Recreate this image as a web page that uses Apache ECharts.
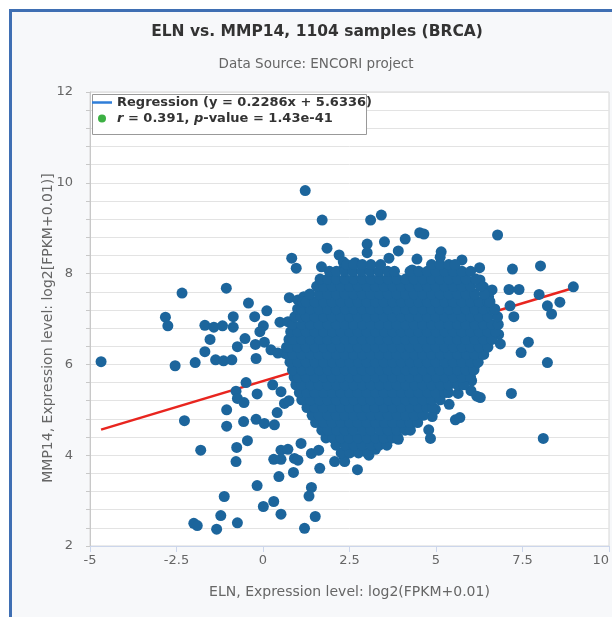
<!DOCTYPE html>
<html><head><meta charset="utf-8">
<script src="https://cdn.jsdelivr.net/npm/echarts/dist/echarts.min.js"></script>
<style>
html,body{margin:0;padding:0;background:#fff;width:612px;height:617px;overflow:hidden;position:relative}
#frame{position:absolute;left:9px;top:9px;width:700px;height:700px;box-sizing:border-box;border-left:3px solid #3f6fb3;border-top:3px solid #3f6fb3;background:#f7f8fa}
#chart{position:absolute;left:0;top:0;width:612px;height:617px}
</style></head><body>
<div id="frame"></div><div id="chart"></div>
<script>
const titleText = 'ELN vs. MMP14, 1104 samples (BRCA)';
const subtitleText = 'Data Source: ENCORI project';
const xTitle = 'ELN, Expression level: log2(FPKM+0.01)';
const yTitle = 'MMP14, Expression level: log2[FPKM+0.01)]';
const xTicks = [-5, -2.5, 0, 2.5, 5, 7.5, 10];
const yTicks = [2, 4, 6, 8, 10, 12];
const regSlope = 0.2286;
const regIntercept = 5.6336;
const rValue = '0.391';
const pValue = '1.43e-41';

// scattered samples [ELN, MMP14]
const sparseSamples = [
  [-4.68,6.06],[-2.82,7.04],[-2.75,6.85],[-2.34,7.57],[-2.54,5.97],[-1.96,6.04],
  [-1.68,6.86],[-1.42,6.82],[-1.17,6.85],[-1.06,7.68],[-0.86,7.05],[-0.86,6.82],
  [-0.42,7.35],[-0.24,7.05],[0.11,7.18],[0.01,6.85],[-0.09,6.72],[-1.53,6.55],
  [-0.52,6.57],[-0.74,6.39],[-0.22,6.44],[0.04,6.49],[-1.68,6.28],[-1.37,6.10],
  [-1.14,6.08],[-0.90,6.10],[-0.20,6.13],[0.23,6.32],[0.43,6.25],[0.62,6.25],
  [0.49,6.93],[0.72,6.94],[0.76,7.47],[1.01,7.42],[1.18,7.49],[0.91,6.54],[1.10,6.57],
  [1.22,9.83],[1.71,9.18],[1.85,8.56],[2.20,8.41],[2.32,8.26],[2.32,8.10],[0.83,8.34],
  [0.96,8.12],[1.69,8.15],[3.11,9.18],[3.42,9.29],[2.66,8.24],[3.01,8.65],[3.01,8.46],
  [3.51,8.70],[3.91,8.50],[4.11,8.76],[4.53,8.90],[4.65,8.87],[3.64,8.34],[4.45,8.32],
  [4.31,8.08],[5.15,8.48],[5.12,8.36],[5.75,8.30],[6.26,8.13],[6.78,8.85],
  [7.21,8.10],[8.02,8.17],[8.97,7.71],[7.11,7.65],[7.40,7.65],[7.98,7.54],[8.22,7.29],
  [8.34,7.11],[8.58,7.37],[7.14,7.29],[7.25,7.05],[6.81,6.66],[6.86,6.45],[7.67,6.49],
  [7.46,6.26],[8.22,6.04],[6.37,7.71],[6.62,7.64],[6.52,7.49],[6.27,7.86],[7.18,5.36],
  [8.10,4.37],[6.13,5.99],[5.97,5.77],[6.03,5.64],[6.01,5.42],[6.18,5.30],[6.28,5.27],
  [5.64,5.36],[5.38,5.12],[5.56,4.78],[5.69,4.83],[4.79,4.56],[4.84,4.37],[4.98,5.01],
  [4.89,4.85],[4.55,4.89],[4.01,4.63],[3.91,4.35],[3.50,4.52],[3.50,4.37],[3.25,4.13],
  [3.06,4.00],[2.73,3.68],[2.34,3.97],[2.36,3.86],[2.07,3.86],[4.60,5.40],[4.70,5.33],
  [4.26,5.18],[4.40,5.07],
  [-0.49,5.60],[-0.78,5.41],[-0.74,5.25],[-0.55,5.16],[-0.17,5.35],[0.28,5.55],[0.52,5.40],
  [-1.05,5.00],[-1.05,4.64],[-2.27,4.76],[-0.56,4.74],[-0.20,4.79],[0.04,4.70],[0.33,4.67],
  [0.41,4.94],[0.62,5.14],[0.75,5.20],[-0.45,4.32],[-0.76,4.17],[-1.80,4.11],[-0.78,3.86],
  [0.52,4.11],[0.72,4.13],[0.91,3.93],[1.01,3.89],[0.31,3.91],[0.52,3.91],[0.46,3.53],
  [0.88,3.62],[1.10,4.26],[1.40,4.04],[1.61,4.11],[1.64,3.71],[-0.17,3.33],[1.40,3.29],
  [1.33,3.10],[-1.12,3.09],[0.01,2.87],[0.31,2.98],[0.52,2.70],[-1.22,2.67],[-2.00,2.50],
  [-1.90,2.45],[-1.34,2.37],[-0.74,2.51],[1.20,2.39],[1.51,2.65]
];

// dense core, estimated row by row: [MMP14, [ELN values]]
const denseRows = [
  [4.05,[2.26,2.51,2.76,3.02]],
  [4.22,[2.11,2.38,2.63,2.87,3.13,3.36,3.58]],
  [4.38,[1.82,2.01,2.26,2.49,2.75,3.01,3.26,3.49,3.74,3.90]],
  [4.55,[1.70,1.88,2.13,2.37,2.61,2.88,3.12,3.38,3.62,3.87,4.11,4.26]],
  [4.72,[1.52,1.76,2.00,2.26,2.51,2.74,3.00,3.25,3.51,3.75,4.01,4.25,4.47]],
  [4.88,[1.42,1.62,1.88,2.12,2.36,2.63,2.87,3.13,3.37,3.62,3.88,4.12,4.37,4.63]],
  [5.05,[1.27,1.50,1.74,2.01,2.25,2.50,2.76,3.00,3.24,3.50,3.76,4.00,4.26,4.50,4.74,4.90]],
  [5.22,[1.12,1.37,1.63,1.87,2.12,2.38,2.62,2.88,3.12,3.37,3.63,3.87,4.13,4.37,4.62,4.88,5.12]],
  [5.38,[1.05,1.26,1.50,1.75,2.01,2.25,2.50,2.74,3.00,3.26,3.50,3.75,4.01,4.25,4.50,4.76,5.00,5.25,5.36]],
  [5.55,[0.95,1.12,1.38,1.62,1.87,2.13,2.37,2.62,2.88,3.12,3.37,3.63,3.87,4.12,4.38,4.62,4.87,5.13,5.37,5.62,5.80]],
  [5.72,[0.90,1.01,1.25,1.50,1.76,2.00,2.25,2.51,2.75,3.00,3.26,3.50,3.75,4.01,4.25,4.50,4.75,5.01,5.25,5.50,5.76,6.00]],
  [5.88,[0.85,1.12,1.37,1.63,1.88,2.12,2.37,2.63,2.87,3.12,3.38,3.62,3.87,4.13,4.37,4.62,4.88,5.12,5.37,5.63,5.87,6.10]],
  [6.05,[0.78,1.00,1.25,1.50,1.75,2.01,2.25,2.50,2.76,3.00,3.25,3.50,3.75,4.00,4.26,4.50,4.75,5.00,5.26,5.50,5.75,6.00,6.22]],
  [6.22,[0.70,0.87,1.12,1.38,1.62,1.87,2.13,2.37,2.62,2.88,3.12,3.37,3.63,3.87,4.12,4.38,4.62,4.87,5.13,5.37,5.62,5.88,6.12,6.38]],
  [6.38,[0.68,0.75,1.00,1.25,1.51,1.75,2.00,2.25,2.51,2.75,3.00,3.26,3.50,3.75,4.00,4.25,4.51,4.75,5.00,5.25,5.50,5.76,6.00,6.25,6.50]],
  [6.55,[0.75,0.87,1.12,1.37,1.63,1.87,2.12,2.38,2.62,2.87,3.13,3.37,3.62,3.88,4.12,4.37,4.63,4.87,5.12,5.38,5.62,5.87,6.13,6.37,6.62]],
  [6.72,[0.80,1.00,1.25,1.50,1.75,2.01,2.25,2.50,2.75,3.00,3.25,3.51,3.75,4.00,4.25,4.50,4.75,5.01,5.25,5.50,5.75,6.00,6.25,6.50,6.72]],
  [6.88,[0.85,1.12,1.37,1.62,1.88,2.12,2.37,2.62,2.88,3.12,3.37,3.63,3.87,4.12,4.37,4.62,4.88,5.12,5.37,5.62,5.87,6.13,6.37,6.62,6.80]],
  [7.05,[0.92,1.10,1.25,1.50,1.75,2.00,2.25,2.50,2.75,3.01,3.25,3.50,3.75,4.00,4.25,4.50,4.75,5.00,5.25,5.50,5.75,6.00,6.25,6.50,6.78]],
  [7.22,[1.00,1.12,1.37,1.62,1.87,2.12,2.38,2.62,2.87,3.12,3.37,3.62,3.88,4.12,4.37,4.62,4.87,5.12,5.38,5.62,5.87,6.12,6.37,6.62,6.70]],
  [7.38,[1.15,1.25,1.50,1.75,2.00,2.25,2.50,2.75,3.00,3.25,3.50,3.75,4.00,4.25,4.50,4.75,5.00,5.25,5.50,5.75,6.00,6.25,6.50,6.56]],
  [7.55,[1.35,1.62,1.87,2.12,2.37,2.62,2.87,3.12,3.37,3.62,3.87,4.12,4.37,4.62,4.87,5.12,5.37,5.62,5.87,6.12,6.40]],
  [7.72,[1.55,1.75,2.00,2.25,2.50,2.75,3.00,3.25,3.50,3.75,4.00,4.25,4.50,4.75,5.00,5.25,5.50,5.75,6.00,6.28]],
  [7.88,[1.65,1.87,2.12,2.37,2.62,2.87,3.12,3.37,3.62,3.87,4.12,4.37,4.62,4.87,5.12,5.37,5.62,5.87,6.15]],
  [8.05,[1.92,2.12,2.36,2.60,2.85,3.10,3.35,3.60,3.80,4.25,4.50,4.75,5.00,5.25,5.50,5.75,6.00]],
  [8.20,[2.42,2.62,2.87,3.12,3.40,4.87,5.12,5.37,5.55]]
];

const FONT = 'DejaVu Sans';
const regName = 'Regression (y = ' + regSlope + 'x + ' + regIntercept + ')';
const sampleName = 'r = ' + rValue + ', p-value = ' + pValue;

const samples = sparseSamples.concat(denseRows.flatMap(r => r[1].map(x => [x, r[0]])));
const elnValues = samples.map(p => p[0]);
const xLo = Math.min(...elnValues), xHi = Math.max(...elnValues);
const regLine = [[xLo, regSlope * xLo + regIntercept], [xHi, regSlope * xHi + regIntercept]];

const chart = echarts.init(document.getElementById('chart'), null, {renderer: 'canvas'});
chart.setOption({
  animation: false,
  backgroundColor: 'transparent',
  textStyle: {fontFamily: FONT},
  title: [
    {text: titleText, left: 312, textAlign: 'center', top: 19,
     textStyle: {fontFamily: FONT, fontSize: 15.5, fontWeight: 'bold', color: '#333'}},
    {text: subtitleText, left: 311, textAlign: 'center', top: 52,
     textStyle: {fontFamily: FONT, fontSize: 13.5, fontWeight: 'normal', color: '#666'}}
  ],
  graphic: [
    {type: 'rect', z: 5, shape: {x: 92.5, y: 94.5, width: 274, height: 40},
     style: {fill: '#fff', stroke: '#999', lineWidth: 1}}
  ],
  legend: {
    orient: 'vertical', left: 92, top: 96, z: 10, padding: 0,
    itemWidth: 20, itemHeight: 8, itemGap: 3, itemTextGap: 6, selectedMode: false,
    data: [
      {name: regName, icon: 'path://M0,0H20V2.5H0Z', itemStyle: {color: '#2f7ed8', borderWidth: 0}},
      {name: sampleName, icon: 'circle', itemStyle: {color: '#3cb043', borderWidth: 0}}
    ],
    formatter: n => n === regName ? '{b|' + n + '}' :
      '{bi|r}{b| = ' + rValue + ', }{bi|p}{b|-value = ' + pValue + '}',
    textStyle: {rich: {
      b: {fontFamily: FONT, fontSize: 13, fontWeight: 'bold', color: '#333', lineHeight: 16},
      bi: {fontFamily: FONT, fontSize: 13, fontWeight: 'bold', fontStyle: 'italic', color: '#333', lineHeight: 16}
    }}
  },
  grid: {left: 90, right: 1, top: 92, bottom: 71, show: true, backgroundColor: '#fff',
         borderColor: '#d6d6d6', borderWidth: 1},
  xAxis: {
    type: 'value', min: xTicks[0], max: xTicks[xTicks.length - 1], interval: xTicks[1] - xTicks[0],
    splitLine: {show: false},
    axisLine: {show: true, onZero: false, lineStyle: {color: '#ccd6eb'}},
    axisTick: {show: true, length: 6, lineStyle: {color: '#ccd6eb'}},
    axisLabel: {color: '#666', fontSize: 13, fontFamily: FONT, margin: 8, alignMaxLabel: 'right'},
    name: xTitle, nameLocation: 'middle', nameGap: 39, nameMoveOverlap: false,
    nameTextStyle: {color: '#666', fontSize: 14, fontFamily: FONT}
  },
  yAxis: {
    type: 'value', min: yTicks[0], max: yTicks[yTicks.length - 1], interval: 0.4,
    splitLine: {show: true, lineStyle: {color: '#e3e3e3'}},
    axisLine: {show: true, onZero: false, lineStyle: {color: '#c8c8c8'}},
    axisTick: {show: true, length: 4, lineStyle: {color: '#c8c8c8'}},
    axisLabel: {color: '#666', fontSize: 13, fontFamily: FONT, margin: 17,
      formatter: v => yTicks.some(t => Math.abs(t - v) < 1e-6) ? String(Math.round(v)) : ''},
    name: yTitle, nameLocation: 'middle', nameRotate: 90, nameGap: 35, nameMoveOverlap: false,
    nameTextStyle: {color: '#666', fontSize: 14, fontFamily: FONT, padding: [0, 18, 0, 0]}
  },
  series: [
    {name: regName, type: 'line', data: regLine, symbol: 'none', showSymbol: false, z: 1, silent: true,
     lineStyle: {color: '#e8251f', width: 2.5}},
    {name: sampleName, type: 'scatter', data: samples, symbolSize: 11, z: 3,
     itemStyle: {color: '#1c659c', opacity: 1, borderWidth: 0}}
  ]
});
</script>
</body></html>
